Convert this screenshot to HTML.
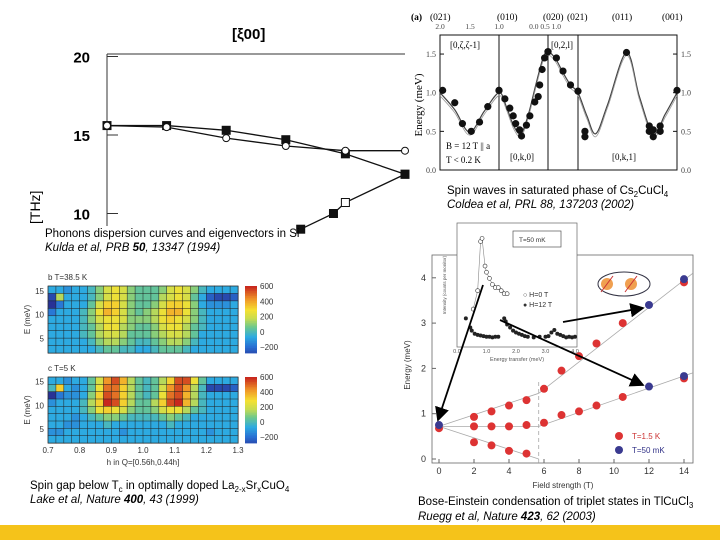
<!DOCTYPE html>
<html><head><meta charset="utf-8"><style>
body{margin:0;background:#fff;}
svg{display:block;font-family:"Liberation Sans",sans-serif;}
.ser{font-family:"Liberation Serif",serif;}
</style></head><body>
<svg id="s" width="720" height="540" viewBox="0 0 720 540" xmlns="http://www.w3.org/2000/svg">
<rect x="0" y="0" width="720" height="540" fill="#fff"/>
<rect x="0" y="525" width="720" height="15" fill="#f5c31a"/>
<g id="phonon">
 <text x="232" y="39" font-size="15" font-weight="bold">[ξ00]</text>
 <line x1="107" y1="54" x2="405" y2="54" stroke="#333" stroke-width="1"/>
 <line x1="107" y1="54" x2="107" y2="226" stroke="#333" stroke-width="1"/>
 <text x="18" y="-40" font-size="14" transform="rotate(-90) translate(-242,80)">[THz]</text>
</g>
<g id="spin"></g>
<g id="heat"></g>
<g id="bec"></g>
<g font-size="11.5">
 <text x="45" y="237">Phonons dispersion curves and eigenvectors in Si</text>
 <text x="45" y="251" font-style="italic">Kulda et al, PRB <tspan font-weight="bold">50</tspan>, 13347 (1994)</text>
 <text x="447" y="194">Spin waves in saturated phase of Cs<tspan font-size="8" dy="3">2</tspan><tspan dy="-3">CuCl</tspan><tspan font-size="8" dy="3">4</tspan></text>
 <text x="447" y="208" font-style="italic">Coldea et al, PRL 88, 137203 (2002)</text>
 <text x="30" y="489">Spin gap below T<tspan font-size="8" dy="3">c</tspan><tspan dy="-3"> in optimally doped La</tspan><tspan font-size="8" dy="3">2-x</tspan><tspan dy="-3">Sr</tspan><tspan font-size="8" dy="3">x</tspan><tspan dy="-3">CuO</tspan><tspan font-size="8" dy="3">4</tspan></text>
 <text x="30" y="503" font-style="italic">Lake et al, Nature <tspan font-weight="bold">400</tspan>, 43 (1999)</text>
 <text x="418" y="505">Bose-Einstein condensation of triplet states in TlCuCl<tspan font-size="8" dy="3">3</tspan></text>
 <text x="418" y="520" font-style="italic">Ruegg et al, Nature <tspan font-weight="bold">423</tspan>, 62 (2003)</text>
</g>
</svg>
<script>
const NS="http://www.w3.org/2000/svg";
function mk(p,t,a,txt){const e=document.createElementNS(NS,t);for(const k in a)e.setAttribute(k,a[k]);if(txt!==undefined)e.textContent=txt;p.appendChild(e);return e;}

// ---------- Phonon data ----------
const phXi=[0,0.2,0.4,0.6,0.8,1.0];
const phUpper=[15.6,15.6,15.3,14.7,13.8,12.5];
const phLower=[15.6,15.5,14.8,14.3,14.0,14.0];
const phBottomXi=[0.65,0.76,0.8,1.0];
const phBottom=[9.0,10.0,10.7,12.5];
const phTicks=[20,15,10];
(function(){
 const g=document.getElementById('phonon');
 const X=v=>107+v*298, Y=v=>135-(v-15)*15.7;
 phTicks.forEach(t=>{const tx=mk(g,'text',{x:90,y:Y(t)+6,'font-size':15,'font-weight':'bold','text-anchor':'end'},t);
  
  mk(g,'line',{x1:107,y1:Y(t),x2:118,y2:Y(t),stroke:'#333'});});
 [[phXi,phUpper,'sq'],[phXi,phLower,'circ'],[phBottomXi,phBottom,'sq']].forEach(([xs,ys,m],si)=>{
  const pl=mk(g,'polyline',{points:xs.map((x,i)=>X(x)+','+Y(ys[i])).join(' '),fill:'none',stroke:'#111','stroke-width':1.3});
  
  xs.forEach((x,i)=>{let e;
   if(m==='sq'){const open=(si===2&&i===2);e=mk(g,'rect',{x:X(x)-4,y:Y(ys[i])-4,width:8,height:8,fill:open?'#fff':'#111',stroke:'#111'});}
   else e=mk(g,'circle',{cx:X(x),cy:Y(ys[i]),r:3.5,fill:'#fff',stroke:'#111'});
   });
 });
})();

// ---------- Spin wave data ----------
const swS=[0.045,0.25,0.38,0.53,0.67,0.81,1.0, 1.0,1.12,1.22,1.29,1.34,1.42,1.46,1.56,1.63,1.73,1.8,1.83,1.88,1.93,2.0, 2.0,2.28,2.5,2.75,3.0, 3.07,3.07,3.49,3.72,3.72,3.76,3.76,3.83,3.83,4.0];
const swE=[1.03,0.87,0.6,0.5,0.62,0.82,1.03, 1.03,0.92,0.8,0.7,0.6,0.52,0.44,0.58,0.7,0.88,0.95,1.1,1.3,1.45,1.53, 1.53,1.45,1.28,1.1,1.02, 0.5,0.43,1.52,0.57,0.5,0.52,0.43,0.57,0.5,1.03];
const swCurveS=[0,0.25,0.5,0.75,1.0,1.15,1.3,1.45,1.6,1.75,1.9,2.0,2.25,2.5,2.75,3.0,3.09,3.18,3.3,3.49,3.62,3.76,3.88,4.0];
const swCurveE=[1.0,0.78,0.49,0.76,1.0,0.82,0.57,0.47,0.72,1.1,1.45,1.53,1.44,1.26,1.1,1.0,0.7,0.47,0.85,1.52,0.95,0.47,0.72,1.0];
const swYTicks=[0.0,0.5,1.0,1.5];
(function(){
 const g=document.getElementById('spin');
 const bx=[440,499,548,578,677];
 const X=s=>{const i=Math.min(3,Math.floor(s));return bx[i]+(s-i)*(bx[i+1]-bx[i]);};
 const Y=e=>170-e*77.3;
 mk(g,'rect',{x:440,y:35,width:237,height:135,fill:'none',stroke:'#111'});
 [1,2,3].forEach(i=>mk(g,'line',{x1:bx[i],y1:35,x2:bx[i],y2:170,stroke:'#111'}));
 swYTicks.forEach(t=>{
  const a=mk(g,'text',{x:436,y:Y(t)+3,'font-size':8,'text-anchor':'end',class:'ser',fill:'#444'},t.toFixed(1));
  
  const b=mk(g,'text',{x:681,y:Y(t)+3,'font-size':8,class:'ser',fill:'#444'},t.toFixed(1));
  
  mk(g,'line',{x1:440,y1:Y(t),x2:444,y2:Y(t),stroke:'#111'});mk(g,'line',{x1:673,y1:Y(t),x2:677,y2:Y(t),stroke:'#111'});});
 const yl=mk(g,'text',{x:0,y:0,'font-size':11,class:'ser','text-anchor':'middle',transform:'translate(422,105) rotate(-90)'},'Energy (meV)');
 
 const P=swCurveS.map((s,i)=>[X(s),Y(swCurveE[i])]);
 let d='M'+P[0][0]+','+P[0][1];
 for(let i=0;i<P.length-1;i++){const p0=P[Math.max(0,i-1)],p1=P[i],p2=P[i+1],p3=P[Math.min(P.length-1,i+2)];
  d+=' C'+(p1[0]+(p2[0]-p0[0])/6)+','+(p1[1]+(p2[1]-p0[1])/6)+' '+(p2[0]-(p3[0]-p1[0])/6)+','+(p2[1]-(p3[1]-p1[1])/6)+' '+p2[0]+','+p2[1];}
 const c=mk(g,'path',{d:d,fill:'none',stroke:'#444','stroke-width':1.2});
 
 const c2=mk(g,'path',{d:d,fill:'none',stroke:'#999','stroke-width':0.8,transform:'translate(0,3)'});
 
 swS.forEach((s,i)=>{const p=mk(g,'circle',{cx:X(s),cy:Y(swE[i]),r:3.6,fill:'#111'});
  });
 const lab=[['(a)',411,'bold'],['(021)',430],['(010)',497],['(020)',543],['(021)',567],['(011)',612],['(001)',662]];
 lab.forEach(l=>{const t=mk(g,'text',{x:l[1],y:20,'font-size':9.5,class:'ser','font-weight':l[2]||'normal'},l[0]);
  });
 [['2.0',440],['1.5',470],['1.0',499],['0.0 0.5 1.0',545]].forEach(l=>{const t=mk(g,'text',{x:l[1],y:29,'font-size':7.5,class:'ser','text-anchor':'middle',fill:'#444'},l[0]);
  });
 [['[0,ζ,ζ-1]',450,48],['[0,2,l]',551,48],['[0,k,0]',510,160],['[0,k,1]',612,160],['B = 12 T || a',446,149],['T < 0.2 K',446,163]].forEach(l=>{
  const t=mk(g,'text',{x:l[1],y:l[2],'font-size':9,class:'ser'},l[0]);});
})();

// ---------- Heatmap data ----------
const hmH=[0.7,0.8,0.9,1.0,1.1,1.2,1.3];
const hmETicks=[15,10,5];
const hmTop=[
[0,0,-50,0,0,50,150,250,300,250,150,100,100,100,150,250,300,250,150,50,0,0,0,0],
[-200,200,0,0,0,50,150,250,300,250,150,100,100,100,200,250,300,250,100,0,-150,-200,-200,-150],
[-250,-100,0,0,0,100,250,350,350,250,150,100,100,150,250,350,350,300,150,0,-50,-50,-50,0],
[-100,0,0,0,50,150,300,400,350,250,150,100,150,200,300,400,400,300,150,50,0,0,0,0],
[0,0,0,0,50,150,250,300,300,250,150,150,150,200,300,350,300,250,150,50,0,0,0,0],
[0,0,0,0,50,100,200,300,300,200,150,100,100,150,250,300,300,200,100,50,0,0,0,0],
[0,0,0,0,50,100,200,250,250,200,100,100,100,150,200,250,250,200,100,0,0,0,0,0],
[0,0,0,0,0,50,150,200,200,150,100,50,50,100,150,200,200,150,50,0,0,0,0,0],
[0,0,0,0,0,0,50,100,100,50,50,0,0,50,100,100,100,50,0,0,0,0,0,0]];
const hmBottom=[
[0,0,-50,0,0,100,250,450,550,400,200,100,50,100,200,350,550,550,300,100,0,0,0,0],
[50,350,0,-50,0,100,300,500,500,350,200,100,50,100,250,450,550,450,200,50,-200,-200,-200,-150],
[-250,-100,-50,-50,0,150,350,550,500,350,200,100,50,100,300,500,550,400,200,50,0,0,0,0],
[-50,0,0,0,50,200,350,600,550,350,200,100,100,200,350,550,600,400,200,50,0,0,0,0],
[0,0,0,0,50,150,300,350,300,250,150,100,100,150,250,300,300,200,100,50,0,0,0,0],
[0,0,0,-50,0,50,100,150,150,100,50,50,50,50,100,150,100,50,0,0,0,0,0,0],
[0,0,-50,-50,0,0,0,50,0,0,0,0,0,0,0,50,0,0,0,0,0,0,0,0],
[-50,-50,0,0,0,0,0,0,0,-50,0,0,0,0,0,0,0,0,0,0,-50,0,0,0],
[0,0,0,0,0,0,0,0,0,0,0,0,0,0,0,0,0,0,0,0,0,0,0,0]];
const cbTicks=[600,400,200,0,-200];
(function(){
 const g=document.getElementById('heat');
 const stops=[[-250,[40,50,150]],[-120,[40,110,210]],[0,[45,170,225]],[120,[110,200,140]],[220,[200,220,80]],[320,[245,225,50]],[450,[240,150,40]],[600,[200,40,30]]];
 function col(v){if(v<=stops[0][0])return 'rgb('+stops[0][1]+')';for(let i=1;i<stops.length;i++){if(v<=stops[i][0]){const a=stops[i-1],b=stops[i],t=(v-a[0])/(b[0]-a[0]);return 'rgb('+a[1].map((c,k)=>Math.round(c+(b[1][k]-c)*t)).join(',')+')';}}return 'rgb('+stops[stops.length-1][1]+')';}
 const X=h=>48+(h-0.7)/0.6*190;
 function map(data,top,bot,lab,nm){
  const Y=e=>bot-(e-2)/14*(bot-top);
  const rows=data.length,cols=data[0].length,cw=190/cols,rh=(bot-top)/rows;
  data.forEach((r,i)=>r.forEach((v,j)=>{const c=mk(g,'rect',{x:48+j*cw,y:top+i*rh,width:cw+0.3,height:rh+0.3,fill:col(v),stroke:'#222','stroke-width':0.5});
   }));
  mk(g,'rect',{x:48,y:top,width:190,height:bot-top,fill:'none',stroke:'#333','stroke-width':0.6});
  hmETicks.forEach(t=>{const a=mk(g,'text',{x:44,y:Y(t)+3,'font-size':8,'text-anchor':'end',fill:'#333'},t);});
  const yt=mk(g,'text',{x:0,y:0,'font-size':8,'text-anchor':'middle',fill:'#333',transform:'translate(30,'+((top+bot)/2)+') rotate(-90)'},'E (meV)');
  
  const tl=mk(g,'text',{x:48,y:top-6,'font-size':8,fill:'#333'},lab);
  for(let k=0;k<40;k++){const v=600-k*20;mk(g,'rect',{x:245,y:top+k*(bot-top)/40,width:12,height:(bot-top)/40+0.4,fill:col(v)});}
  cbTicks.forEach((t,k)=>{const a=mk(g,'text',{x:260,y:top+3+k*(bot-top-6)/4,'font-size':8,fill:'#333'},t===-200?'−200':t);});
 }
 map(hmTop,286,353,'b      T=38.5 K','heatmap-top');
 map(hmBottom,377,443,'c      T=5 K','heatmap-bottom');
 hmH.forEach(h=>{const a=mk(g,'text',{x:X(h),y:453,'font-size':8,'text-anchor':'middle',fill:'#333'},h.toFixed(1));});
 const xt=mk(g,'text',{x:143,y:465,'font-size':8,'text-anchor':'middle',fill:'#333'},'h in Q=[0.56h,0.44h]');
 
})();

// ---------- BEC data ----------
const becRedB=[0,2,3,4,5,2,3,4,5,2,3,4,5,6,7,8,9,10.5,6,7,8,9,10.5,14,14];
const becRedE=[0.68,0.93,1.05,1.18,1.3,0.72,0.72,0.72,0.75,0.37,0.3,0.18,0.12,1.55,1.95,2.27,2.55,3.0,0.8,0.97,1.05,1.18,1.37,3.9,1.78];
const becBlueB=[0,12,12,14,14];
const becBlueE=[0.75,3.4,1.6,3.97,1.83];
const becXTicks=[0,2,4,6,8,10,12,14];
const becYTicks=[0,1,2,3,4];
const insOpenE=[0.55,0.7,0.8,0.85,0.95,1.0,1.1,1.2,1.3,1.4,1.5,1.6,1.7];
const insOpenI=[0.06,0.09,0.17,0.175,0.13,0.12,0.11,0.1,0.095,0.095,0.09,0.085,0.085];
const insFillE=[0.3,0.45,0.5,0.6,0.7,0.8,0.9,1.0,1.1,1.2,1.3,1.4,1.6,1.65,1.7,1.8,1.9,2.0,2.1,2.2,2.3,2.4,2.6,2.8,3.0,3.1,3.2,3.3,3.4,3.5,3.6,3.7,3.8,3.9,4.0];
const insFillI=[0.045,0.03,0.025,0.02,0.018,0.017,0.016,0.015,0.015,0.014,0.015,0.015,0.045,0.04,0.035,0.03,0.025,0.022,0.02,0.018,0.016,0.015,0.014,0.015,0.015,0.016,0.022,0.026,0.02,0.018,0.016,0.014,0.015,0.014,0.015];
(function(){
 const g=document.getElementById('bec');
 const X=b=>439+b*17.5, Y=e=>459-e*45.3;
 mk(g,'rect',{x:432,y:255,width:261,height:208,fill:'none',stroke:'#666','stroke-width':0.8});
 becXTicks.forEach(t=>{const a=mk(g,'text',{x:X(t),y:474,'font-size':9,'text-anchor':'middle',fill:'#333'},t);mk(g,'line',{x1:X(t),y1:463,x2:X(t),y2:459,stroke:'#666'});});
 becYTicks.forEach(t=>{const a=mk(g,'text',{x:426,y:Y(t)+3,'font-size':9,'text-anchor':'end',fill:'#333'},t);mk(g,'line',{x1:432,y1:Y(t),x2:436,y2:Y(t),stroke:'#666'});});
 const xt=mk(g,'text',{x:563,y:488,'font-size':8,'text-anchor':'middle',fill:'#333'},'Field strength (T)');
 const yt=mk(g,'text',{x:0,y:0,'font-size':8,'text-anchor':'middle',fill:'#333',transform:'translate(410,365) rotate(-90)'},'Energy (meV)');
 mk(g,'line',{x1:X(5.7),y1:463,x2:X(5.7),y2:380,stroke:'#999','stroke-dasharray':'4,3','stroke-width':0.7});
 [[[0,5.7],[0.72,1.45]],[[0,5.7],[0.72,0.72]],[[0,5.7],[0.72,0.0]],[[5.7,14.5],[1.45,4.1]],[[5.7,14.5],[0.72,1.9]]].forEach(l=>{
  const e=mk(g,'line',{x1:X(l[0][0]),y1:Y(l[1][0]),x2:X(l[0][1]),y2:Y(l[1][1]),stroke:'#aaa','stroke-width':0.8});});
 becRedB.forEach((b,i)=>{const c=mk(g,'circle',{cx:X(b),cy:Y(becRedE[i]),r:4,fill:'#dd3333'});});
 becBlueB.forEach((b,i)=>{const c=mk(g,'circle',{cx:X(b),cy:Y(becBlueE[i]),r:4,fill:'#3a3a90'});});
 mk(g,'circle',{cx:619,cy:436,r:4,fill:'#dd3333'});mk(g,'circle',{cx:619,cy:450,r:4,fill:'#3a3a90'});
 const l1=mk(g,'text',{x:632,y:439,'font-size':8,fill:'#cc3333'},'T=1.5 K');
 const l2=mk(g,'text',{x:632,y:453,'font-size':8,fill:'#333388'},'T=50 mK');
 mk(g,'ellipse',{cx:624,cy:284,rx:26,ry:12,fill:'#fff',stroke:'#334',"stroke-width":1});
 mk(g,'circle',{cx:607,cy:284,r:6,fill:'#f0a050'});mk(g,'circle',{cx:631,cy:284,r:6,fill:'#f0a050'});
 mk(g,'line',{x1:601,y1:292,x2:613,y2:276,stroke:'#c33'});mk(g,'line',{x1:625,y1:292,x2:637,y2:276,stroke:'#c33'});
 const ix=e=>457+e*29.5, iy=v=>346-v*615;
 const ins=mk(g,'rect',{x:457,y:223,width:120,height:124,fill:'#fff',stroke:'#666','stroke-width':0.7});
 mk(g,'rect',{x:513,y:231,width:48,height:16,fill:'#fff',stroke:'#555','stroke-width':0.7});
 mk(g,'text',{x:519,y:242,'font-size':6.5,fill:'#333'},'T=50 mK');
 mk(g,'text',{x:523,y:297,'font-size':7,fill:'#333'},'○ H=0 T');mk(g,'text',{x:523,y:307,'font-size':7,fill:'#333'},'● H=12 T');
 mk(g,'text',{x:0,y:0,'font-size':4.5,fill:'#555','text-anchor':'middle',transform:'translate(446,285) rotate(-90)'},'Intensity (counts per monitor)');
 mk(g,'text',{x:517,y:361,'font-size':5.5,fill:'#555','text-anchor':'middle'},'Energy transfer (meV)');
 ['0.0','1.0','2.0','3.0','4.0'].forEach((t,k)=>mk(g,'text',{x:ix(k),y:353,'font-size':5.5,fill:'#555','text-anchor':'middle'},t));
 mk(g,'polyline',{points:insOpenE.map((e,i)=>ix(e)+','+iy(insOpenI[i])).join(' '),fill:'none',stroke:'#888','stroke-width':0.6});
 insOpenE.forEach((e,i)=>{const c=mk(g,'circle',{cx:ix(e),cy:iy(insOpenI[i]),r:2,fill:'#fff',stroke:'#333','stroke-width':0.6});});
 insFillE.forEach((e,i)=>{const c=mk(g,'circle',{cx:ix(e),cy:iy(insFillI[i]),r:2,fill:'#222'});});
 mk(g,'defs',{}).innerHTML='<marker id="ah" markerWidth="8" markerHeight="8" refX="7" refY="4" orient="auto"><path d="M0,0 L8,4 L0,8 z" fill="#000"/></marker>';
 [[483,285,438,420],[500,320,643,385],[563,322,643,308]].forEach(a=>{const e=mk(g,'line',{x1:a[0],y1:a[1],x2:a[2],y2:a[3],stroke:'#000','stroke-width':1.8,'marker-end':'url(#ah)'});});
})();
</script>
</body></html>
